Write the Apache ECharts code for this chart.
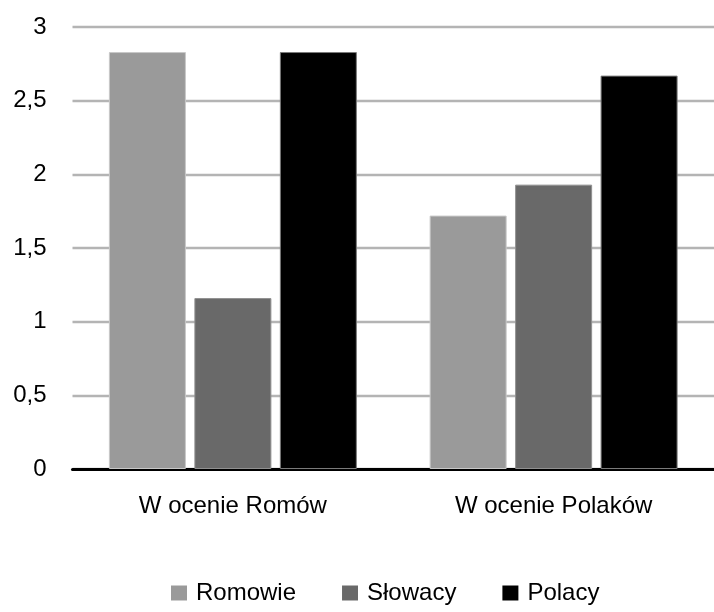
<!DOCTYPE html>
<html>
<head>
<meta charset="utf-8">
<script src="https://cdn.jsdelivr.net/npm/echarts@6/dist/echarts.min.js"></script>
<style>
html,body{margin:0;padding:0;background:#fff;}
#chart{width:714px;height:612px;}
</style>
</head>
<body>
<div id="chart"></div>
<script>
var categories = ['W ocenie Romów', 'W ocenie Polaków'];
var seriesNames = ['Romowie', 'Słowacy', 'Polacy'];
var romowie = [2.83, 1.72];
var slowacy = [1.16, 1.93];
var polacy = [2.83, 2.67];
var yTicks = [0, 0.5, 1, 1.5, 2, 2.5, 3];

var FONT = '"Liberation Sans", Arial, sans-serif';
var colors = ['#9a9a9a', '#696969', '#000000'];
var borders = ['#c8c8c8', '#909090', '#7a7a7a'];
var values = [romowie, slowacy, polacy];

var chart = echarts.init(document.getElementById('chart'), null, {renderer: 'canvas'});
chart.setOption({
  animation: false,
  backgroundColor: '#ffffff',
  textStyle: {fontFamily: FONT},
  grid: {left: 72.5, right: -8.5, top: 27, bottom: 143, containLabel: false},
  legend: {
    data: seriesNames.map(function (n, i) { return {name: n, itemStyle: {color: colors[i], borderWidth: 0}}; }),
    left: 166,
    bottom: 2,
    icon: 'rect',
    itemWidth: 16,
    itemHeight: 15,
    itemGap: 46,
    textStyle: {fontFamily: FONT, fontSize: 24, color: '#000', padding: [0, 0, 0, 4]}
  },
  xAxis: {
    type: 'category',
    data: categories,
    axisLine: {show: true, lineStyle: {color: '#000', width: 3}},
    axisTick: {show: false},
    axisLabel: {fontFamily: FONT, fontSize: 24, color: '#000', margin: 25}
  },
  yAxis: {
    type: 'value',
    min: 0,
    max: 3,
    interval: 0.5,
    axisLine: {show: false},
    axisTick: {show: false},
    splitLine: {show: true, lineStyle: {color: '#b4b4b4', width: 2.3}},
    axisLabel: {
      fontFamily: FONT, fontSize: 24, color: '#000', margin: 26,
      formatter: function (v) { return yTicks.indexOf(v) >= 0 ? String(v).replace('.', ',') : ''; }
    }
  },
  series: seriesNames.map(function (n, i) {
    return {
      name: n,
      type: 'bar',
      data: values[i],
      barWidth: 77,
      barGap: '11%',
      itemStyle: {color: colors[i], borderColor: borders[i], borderWidth: 1}
    };
  })
});
</script>
</body>
</html>
